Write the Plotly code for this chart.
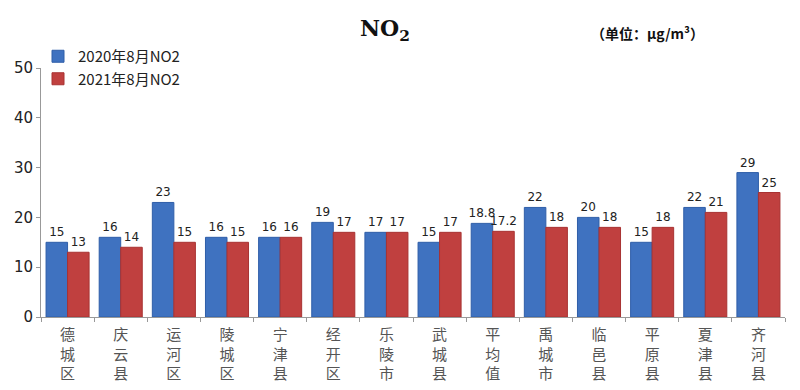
import plotly.graph_objects as go

categories = ["德城区", "庆云县", "运河区", "陵城区", "宁津县", "经开区", "乐陵市",
              "武城县", "平均值", "禹城市", "临邑县", "平原县", "夏津县", "齐河县"]
no2_2020 = [15, 16, 23, 16, 16, 19, 17, 15, 18.8, 22, 20, 15, 22, 29]
no2_2021 = [13, 14, 15, 15, 16, 17, 17, 17, 17.2, 18, 18, 18, 21, 25]
y_ticks = [0, 10, 20, 30, 40, 50]

tick_text = ["<br>".join(list(c)) for c in categories]

W, H = 800, 390
ML, MR, MT, MB = 41, 15, 68, 73
pw = W - ML - MR
ph = H - MT - MB


def px_to_paper(x, y):
    return (x - ML) / pw, (H - MB - y) / ph


fig = go.Figure()
fig.add_trace(go.Bar(
    x=categories, y=no2_2020, name="2020年8月NO2",
    marker=dict(color="#3F72C0", line=dict(color="#2F5EA8", width=1)),
    text=[f"{v:g}" for v in no2_2020], textposition="outside",
    textfont=dict(size=12, color="#222", family="DejaVu Sans"),
    cliponaxis=False,
))
fig.add_trace(go.Bar(
    x=categories, y=no2_2021, name="2021年8月NO2",
    marker=dict(color="#C0403F", line=dict(color="#A83232", width=1)),
    text=[f"{v:g}" for v in no2_2021], textposition="outside",
    textfont=dict(size=12, color="#222", family="DejaVu Sans"),
    cliponaxis=False,
))

tx, ty = px_to_paper(385, 30)
ux, uy = px_to_paper(647, 33)
lx, ly = px_to_paper(38, 40)

fig.update_layout(
    width=W, height=H,
    margin=dict(l=ML, r=MR, t=MT, b=MB, autoexpand=False),
    paper_bgcolor="white", plot_bgcolor="white",
    barmode="group", bargap=0.19, bargroupgap=0,
    showlegend=True,
    legend=dict(x=lx, y=ly, xanchor="left", yanchor="top",
                font=dict(size=15, color="#222", family="Noto Sans CJK SC"),
                bgcolor="rgba(0,0,0,0)", tracegroupgap=0, itemwidth=30),
    uniformtext=dict(minsize=11, mode="show"),
    xaxis=dict(
        tickmode="array", tickvals=categories, ticktext=tick_text,
        tickangle=0, tickson="boundaries", ticks="outside", ticklen=4,
        tickcolor="#999", showline=True, linecolor="#999", linewidth=1,
        tickfont=dict(size=15, color="#555", family="Noto Sans CJK SC"),
        ticklabelstandoff=4,
        showgrid=False,
    ),
    yaxis=dict(
        range=[0, 50], tickmode="array", tickvals=y_ticks,
        ticks="outside", ticklen=4, tickcolor="#999",
        showline=True, linecolor="#999", linewidth=1,
        tickfont=dict(size=15, color="#222", family="DejaVu Sans"),
        showgrid=False, zeroline=False,
    ),
    annotations=[
        dict(text="<b>NO<sub>2</sub></b>", x=tx, y=ty, xref="paper", yref="paper",
             xanchor="center", yanchor="middle",
             showarrow=False, font=dict(size=22, color="#111", family="DejaVu Serif")),
        dict(text="<b>（单位：μg/m³）</b>", x=ux, y=uy, xref="paper", yref="paper",
             xanchor="center", yanchor="middle",
             showarrow=False, font=dict(size=14, color="#111", family="Noto Sans CJK SC")),
    ],
)

fig.write_html("out.html", config={"displayModeBar": False},
               post_script="document.body.style.margin='0';document.body.style.overflow='hidden';")
